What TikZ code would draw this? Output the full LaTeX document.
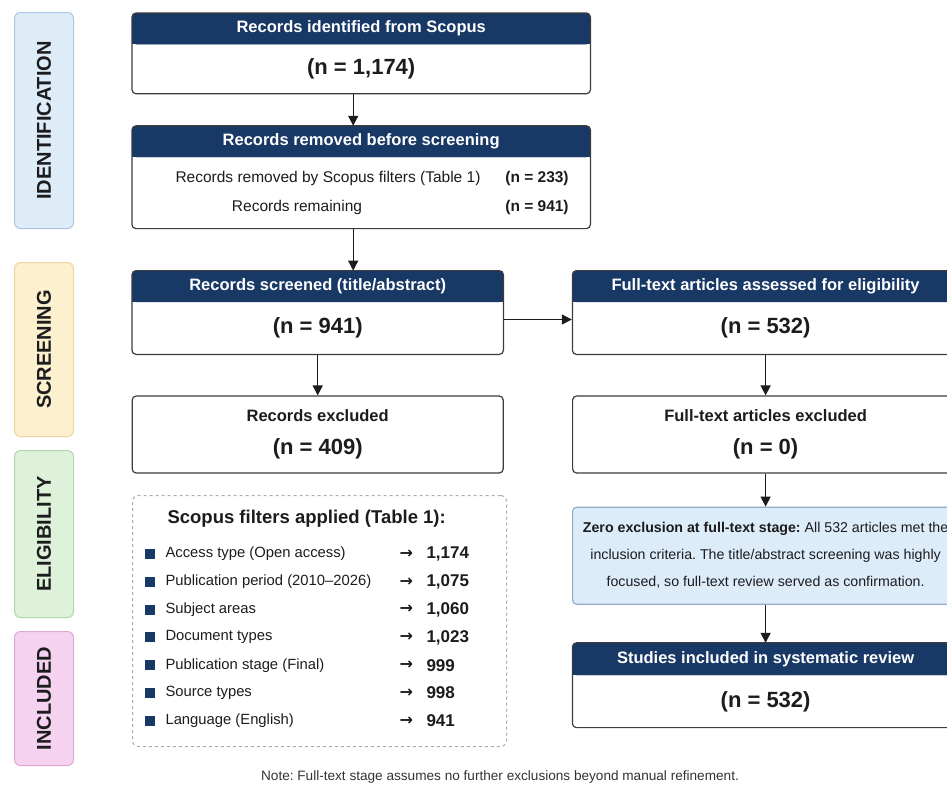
\documentclass[tikz,border=0pt]{standalone}
\usepackage{fontspec}
\setmainfont{Liberation Sans}
\newfontfamily\arrowfont{DejaVu Sans}
\usetikzlibrary{arrows.meta, positioning, fit, backgrounds}
\frenchspacing
\definecolor{navy}{RGB}{24, 56, 102}
\definecolor{ink}{RGB}{28, 28, 30}
\definecolor{edge}{RGB}{60, 60, 62}
\definecolor{idfill}{RGB}{222, 236, 248}
\definecolor{iddraw}{RGB}{170, 200, 228}
\definecolor{scfill}{RGB}{252, 240, 206}
\definecolor{scdraw}{RGB}{238, 214, 160}
\definecolor{elfill}{RGB}{222, 242, 218}
\definecolor{eldraw}{RGB}{178, 214, 172}
\definecolor{infill}{RGB}{245, 210, 240}
\definecolor{indraw}{RGB}{222, 168, 212}
\definecolor{notefill}{RGB}{221, 236, 249}
\definecolor{notedraw}{RGB}{150, 172, 198}
\newcommand{\hdfont}{\fontsize{16.5}{20}\selectfont\bfseries}
\newcommand{\cntfont}{\fontsize{22}{26}\selectfont\bfseries}
\newcommand{\txtfont}{\fontsize{15.5}{19}\selectfont}
\newcommand{\itemfont}{\fontsize{14.8}{17}\selectfont}
\tikzset{
    stagebar/.style={rectangle, rounded corners=6pt, line width=1pt, minimum width=59pt, inner sep=0pt, anchor=north west},
    stagelabel/.style={rotate=90, font=\fontsize{20}{23}\selectfont\bfseries, text=ink},
    headbox/.style={rectangle, rounded corners=4pt, fill=navy, draw=navy, text=white, font=\hdfont, minimum height=31pt, inner sep=0pt},
    bodybox/.style={rectangle, inner sep=0pt, font=\cntfont, text=ink},
    frame/.style={rectangle, rounded corners=4pt, draw=edge, line width=1.2pt, inner sep=0pt},
    plainbox/.style={frame, fill=white, align=center, text=ink, font=\hdfont},
    notebox/.style={frame, fill=notefill, draw=notedraw, align=center, text=ink, font=\fontsize{14.2}{27}\selectfont},
    filterbox/.style={rectangle, rounded corners=6pt, draw=gray!65, dashed, line width=1pt, inner sep=0pt, anchor=north west},
    bullet/.style={rectangle, fill=navy, minimum size=10pt, inner sep=0pt},
    line/.style={draw, -{Triangle[length=10pt, width=10pt]}, line width=1.4pt, color=ink}
}

\begin{document}
\begin{tikzpicture}[x=1pt, y=-1pt]
    \clip (0,0) rectangle (947,787);

    % Stage bars
    \foreach \name/\top/\h/\fc/\dc/\lbl in {ident/12/216/idfill/iddraw/IDENTIFICATION, screen/262/174/scfill/scdraw/SCREENING, elig/450/167/elfill/eldraw/ELIGIBILITY, incl/631/134/infill/indraw/INCLUDED} {
        \node [stagebar, fill=\fc, draw=\dc, minimum height=\h pt] (\name bar) at (14,\top) {};
        \node [stagelabel] (\name lbl) at (\name bar) {\lbl};
    }

    % Identification
    \node [headbox, minimum width=458pt, anchor=north west] (identhd) at (132,13) {Records identified from Scopus};
    \node [bodybox, minimum width=458pt, minimum height=49pt, below=0pt of identhd] (ident) {(n = 1,174)};

    \node [headbox, minimum width=458pt, below=32pt of ident] (removedhd) {Records removed before screening};
    \node [bodybox, minimum width=458pt, minimum height=71pt, below=0pt of removedhd] (removed) {};
    \node [font=\txtfont, text=ink] (rmtxt) at (328,178) {Records removed by Scopus filters (Table 1)};
    \node [font=\txtfont\bfseries, text=ink] (rmnum) at (537,178) {(n = 233)};
    \node [font=\txtfont, text=ink] (remtxt) at (297,207) {Records remaining};
    \node [font=\txtfont\bfseries, text=ink] (remnum) at (537,207) {(n = 941)};

    % Screening
    \node [headbox, minimum width=371pt, below=42pt of removed.south west, anchor=north west] (screenedhd) {Records screened (title/abstract)};
    \node [bodybox, minimum width=371pt, minimum height=52pt, below=0pt of screenedhd] (screened) {(n = 941)};

    \node [headbox, minimum width=386pt, right=69pt of screenedhd] (assessedhd) {Full-text articles assessed for eligibility};
    \node [bodybox, minimum width=386pt, minimum height=52pt, below=0pt of assessedhd] (assessed) {(n = 532)};

    \node [plainbox, minimum width=371pt, minimum height=77pt, below=41pt of screened] (excluded) {Records excluded\\[13pt]{\cntfont (n = 409)}};
    \node [plainbox, minimum width=386pt, minimum height=77pt, below=41pt of assessed] (ftexcl) {Full-text articles excluded\\[13pt]{\cntfont (n = 0)}};

    % Eligibility
    \node [notebox, minimum width=386pt, minimum height=97pt, below=33pt of ftexcl] (note) {\textbf{Zero exclusion at full-text stage:} All 532 articles met the\\inclusion criteria. The title/abstract screening was highly\\focused, so full-text review served as confirmation.};

    \node [filterbox, minimum width=374pt, minimum height=251pt] (filters) at (132,495) {};
    \node [anchor=west, font=\fontsize{18.5}{22}\selectfont\bfseries, text=ink] (filtitle) at (164,519) {Scopus filters applied (Table 1):};
    \foreach \txt/\num [count=\i] in {{Access type (Open access)}/{1,174}, {Publication period (2010–2026)}/{1,075}, {Subject areas}/{1,060}, {Document types}/{1,023}, {Publication stage (Final)}/{999}, {Source types}/{998}, {Language (English)}/{941}} {
        \pgfmathsetmacro{\rowy}{554+(\i-1)*27.8}
        \node [bullet] (bul\i) at (150,\rowy) {};
        \node [anchor=west, font=\itemfont, text=ink] (item\i) at (162,\rowy) {\txt};
        \node [anchor=west, font=\fontsize{16}{18}\selectfont\arrowfont\bfseries, text=ink] (arr\i) at (396,\rowy) {→};
        \node [anchor=west, font=\fontsize{17}{20}\selectfont\bfseries, text=ink] (num\i) at (423,\rowy) {\num};
    }

    % Included
    \node [headbox, minimum width=386pt, minimum height=32pt, below=38pt of note] (studieshd) {Studies included in systematic review};
    \node [bodybox, minimum width=386pt, minimum height=52pt, below=0pt of studieshd] (studies) {(n = 532)};

    % Header boxes: square lower corners, outer frame
    \foreach \b in {ident, removed, screened, assessed, studies} {
        \begin{scope}[on background layer]
            \fill [navy] (\b hd.west) rectangle (\b hd.south east);
        \end{scope}
        \node [frame, fit=(\b hd) (\b)] (\b frame) {};
    }

    \node [font=\fontsize{13.6}{16}\selectfont, text=ink!90] (footnote) at (500,777) {Note: Full-text stage assumes no further exclusions beyond manual refinement.};

    % Connections
    \draw [line] ([xshift=-8pt]identframe.south) -- ([xshift=-8pt]removedhd.north);
    \draw [line] ([xshift=-8pt]removedframe.south) -- ([xshift=-8pt]removedframe.south |- screenedhd.north);
    \draw [line] ([yshift=-7pt]screenedframe.east) -- ([yshift=-7pt]assessedframe.west);
    \draw [line] (screenedframe.south) -- (excluded.north);
    \draw [line] (assessedframe.south) -- (ftexcl.north);
    \draw [line] (ftexcl.south) -- (note.north);
    \draw [line] (note.south) -- (studieshd.north);

\end{tikzpicture}
\end{document}
